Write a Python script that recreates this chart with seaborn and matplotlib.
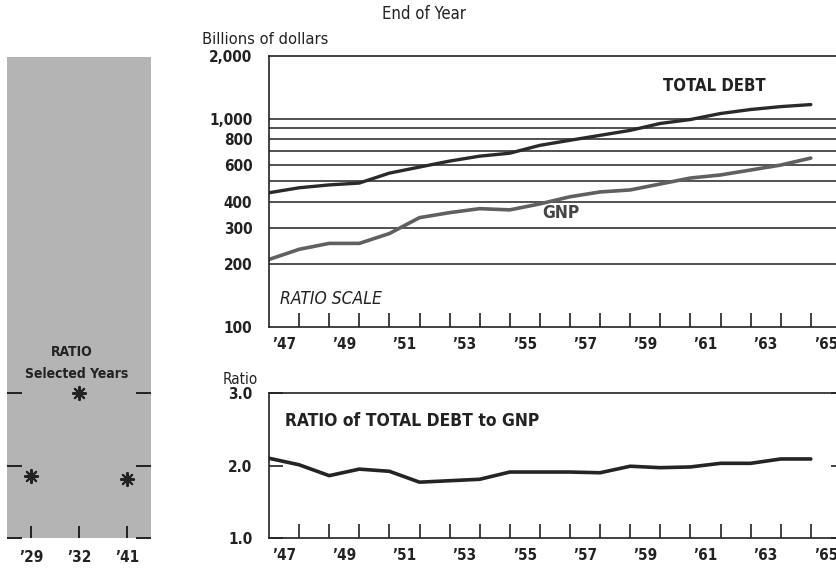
import seaborn as sns
import matplotlib.pyplot as plt
import pandas as pd
from matplotlib.ticker import FixedLocator, FixedFormatter, NullFormatter

# data (end of year, billions of dollars)
years = list(range(1946, 1965))
total_debt = [441, 466, 481, 491, 548, 586, 626, 661, 683, 745, 788, 832, 879, 949, 991, 1059, 1107, 1143, 1169]
gnp = [211, 236, 252, 252, 281, 335, 354, 370, 365, 390, 422, 445, 455, 486, 519, 537, 567, 599, 647]
ratio = [2.10, 2.01, 1.86, 1.95, 1.92, 1.77, 1.79, 1.81, 1.91, 1.91, 1.91, 1.90, 1.99, 1.97, 1.98, 2.03, 2.03, 2.09, 2.09]

sel_years = ["\u201929", "\u201932", "\u201941"]
sel_ratio = [1.86, 3.0, 1.81]

year_labels = ["\u201947", "\u201949", "\u201951", "\u201953", "\u201955", "\u201957", "\u201959", "\u201961", "\u201963", "\u201965"]
year_label_pos = [1946.5, 1948.5, 1950.5, 1952.5, 1954.5, 1956.5, 1958.5, 1960.5, 1962.5, 1964.5]

debt_ticks = [100, 200, 300, 400, 600, 800, 1000, 2000]
debt_tick_labels = ["100", "200", "300", "400", "600", "800", "1,000", "2,000"]
debt_grid = [200, 300, 400, 500, 600, 700, 800, 900, 1000]

df = pd.DataFrame({"year": years, "debt": total_debt, "gnp": gnp, "ratio": ratio})
sel = pd.DataFrame({"pos": [0, 1, 2], "ratio": sel_ratio})

sns.set_style("white")
plt.rcParams["font.family"] = ["DejaVu Sans"]
plt.rcParams["font.stretch"] = "condensed"
plt.rcParams["axes.linewidth"] = 1.2

W, H = 837, 568
fig = plt.figure(figsize=(W / 100, H / 100), dpi=100)


def px(x, y):
    return x / W, 1 - y / H


ink = "#222222"

# ---- top panel: debt and GNP, ratio scale
ax = fig.add_axes([269 / W, 1 - 327 / H, (845 - 269) / W, 271 / H])
sns.lineplot(data=df, x="year", y="debt", ax=ax, color="#2a2a2a", linewidth=2.4)
sns.lineplot(data=df, x="year", y="gnp", ax=ax, color="#606060", linewidth=2.6)
ax.set_yscale("log")
ax.set_ylim(100, 2000)
ax.set_xlim(1946, 1946 + (845 - 269) / 30.1)
ax.yaxis.set_major_locator(FixedLocator(debt_ticks))
ax.yaxis.set_major_formatter(FixedFormatter(debt_tick_labels))
ax.yaxis.set_minor_locator(FixedLocator(debt_grid))
ax.yaxis.set_minor_formatter(NullFormatter())
for g in debt_grid:
    ax.axhline(g, color=ink, linewidth=1.1, zorder=0)

# ---- bottom panel: ratio
ax2 = fig.add_axes([269 / W, 1 - 538 / H, (845 - 269) / W, 145 / H])
sns.lineplot(data=df, x="year", y="ratio", ax=ax2, color="#242424", linewidth=2.6)
ax2.set_ylim(1, 3)
ax2.set_xlim(1946, 1946 + (845 - 269) / 30.1)
ax2.yaxis.set_major_locator(FixedLocator([1, 2, 3]))
ax2.yaxis.set_major_formatter(FixedFormatter(["1.0", "2.0", "3.0"]))

for a in (ax, ax2):
    a.set_xlabel("")
    a.set_ylabel("")
    for s in a.spines.values():
        s.set_color(ink)
    a.xaxis.set_major_locator(FixedLocator(years[1:]))
    a.xaxis.set_major_formatter(NullFormatter())
    a.xaxis.set_minor_locator(FixedLocator(year_label_pos))
    a.xaxis.set_minor_formatter(FixedFormatter(year_labels))
    a.tick_params(axis="x", which="major", direction="in", length=10, width=1.2, color=ink, bottom=True)
    a.tick_params(axis="x", which="minor", length=0, pad=7, labelsize=11, labelcolor=ink)
    for lab in a.xaxis.get_minorticklabels():
        lab.set_fontweight("bold")
    for lab in a.get_yticklabels():
        lab.set_fontweight("bold")

ax.tick_params(axis="y", which="both", length=0, pad=12, labelsize=11, labelcolor=ink)
ax2.tick_params(axis="y", direction="in", length=10, width=1.2, color=ink, pad=12,
                labelsize=11, labelcolor=ink, left=True, right=True)

# ---- left panel: selected years
ax3 = fig.add_axes([7 / W, 1 - 538 / H, 144 / W, 481 / H])
ax3.set_facecolor("#b4b4b4")
sns.scatterplot(data=sel, x="pos", y="ratio", ax=ax3, marker=(8, 2, 0), s=90,
                color=ink, linewidth=1.5, edgecolor=ink)
ax3.set_xlim(-0.5, 2.5)
ax3.set_ylim(1, 1 + 481 / 72.5)
for s in ax3.spines.values():
    s.set_visible(False)
ax3.set_xlabel("")
ax3.set_ylabel("")
ax3.xaxis.set_major_locator(FixedLocator([0, 1, 2]))
ax3.xaxis.set_major_formatter(FixedFormatter(sel_years))
ax3.yaxis.set_major_locator(FixedLocator([1, 2, 3]))
ax3.yaxis.set_major_formatter(NullFormatter())
ax3.tick_params(axis="x", direction="in", length=9, width=1.4, color=ink, bottom=True,
                pad=9, labelsize=11, labelcolor=ink)
ax3.tick_params(axis="y", direction="in", length=11, width=1.4, color=ink, left=True, right=True)
for lab in ax3.get_xticklabels():
    lab.set_fontweight("bold")

# ---- texts
fig.text(*px(424, 14), "End of Year", ha="center", va="center", fontsize=12, color=ink)
fig.text(*px(202, 40), "Billions of dollars", ha="left", va="center", fontsize=11.8, color=ink)
fig.text(*px(714, 86), "TOTAL DEBT", ha="center", va="center", fontsize=12, fontweight="bold", color=ink)
fig.text(*px(561, 213), "GNP", ha="center", va="center", fontsize=12.5, fontweight="bold", color="#444444")
fig.text(*px(331, 299), "RATIO SCALE", ha="center", va="center", fontsize=12.5, fontstyle="italic", color=ink)
fig.text(*px(412, 421), "RATIO of TOTAL DEBT to GNP", ha="center", va="center", fontsize=12.5,
         fontweight="bold", color=ink)
fig.text(*px(240, 379), "Ratio", ha="center", va="center", fontsize=11, color=ink)
fig.text(*px(72, 352), "RATIO", ha="center", va="center", fontsize=10, fontweight="bold", color=ink)
fig.text(*px(77, 374), "Selected Years", ha="center", va="center", fontsize=10, fontweight="bold", color=ink)

fig.savefig("out.png", dpi=100)
